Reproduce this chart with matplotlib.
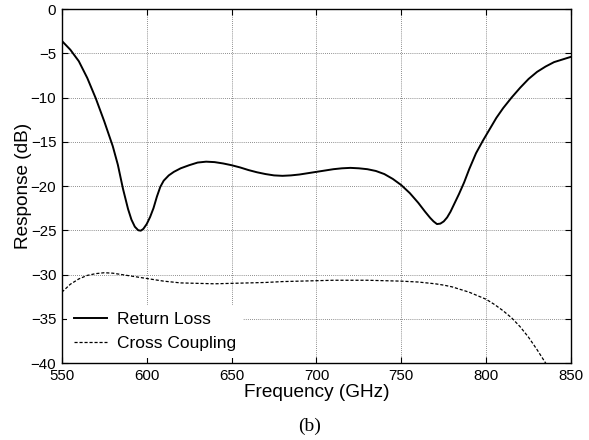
import matplotlib
matplotlib.use("Agg")
import matplotlib.pyplot as plt

# return loss
rl_freq = [550, 555, 560, 565, 570, 575, 580, 583, 586, 589, 591, 593, 595, 596.5,
           598, 600, 602, 604, 606, 608, 610, 613, 616, 620, 625, 630, 635, 640,
           645, 650, 655, 660, 665, 670, 675, 680, 685, 690, 695, 700, 705, 710,
           715, 720, 725, 730, 735, 740, 745, 750, 755, 760, 764, 767, 769, 771,
           773, 775, 777, 779, 781, 784, 787, 790, 794, 798, 802, 806, 810, 815,
           820, 825, 830, 835, 840, 845, 850]
rl_db = [-3.6, -4.6, -5.9, -7.8, -10.1, -12.7, -15.5, -17.6, -20.3, -22.6, -23.8,
         -24.6, -25.0, -25.05, -24.85, -24.3, -23.5, -22.5, -21.2, -20.1, -19.4,
         -18.8, -18.4, -18.0, -17.65, -17.35, -17.25, -17.3, -17.45, -17.65, -17.9,
         -18.2, -18.45, -18.65, -18.8, -18.85, -18.8, -18.7, -18.55, -18.4, -18.25,
         -18.1, -18.0, -17.95, -18.0, -18.1, -18.3, -18.65, -19.2, -19.9, -20.8,
         -21.9, -22.9, -23.6, -24.0, -24.3, -24.25, -24.0, -23.55, -22.9, -22.1,
         -20.9, -19.6, -18.1, -16.3, -14.9, -13.6, -12.3, -11.2, -10.0, -8.9, -7.9,
         -7.1, -6.5, -6.0, -5.7, -5.4]

# cross coupling
cc_freq = [550, 555, 560, 565, 570, 575, 580, 585, 590, 595, 600, 605, 610, 615,
           620, 630, 640, 650, 660, 670, 680, 690, 700, 710, 720, 730, 740, 750,
           760, 770, 775, 780, 785, 790, 795, 800, 805, 810, 815, 820, 825, 830,
           835, 840]
cc_db = [-32.0, -31.1, -30.5, -30.1, -29.9, -29.8, -29.85, -30.0, -30.15, -30.3,
         -30.45, -30.6, -30.75, -30.85, -30.95, -31.0, -31.05, -31.0, -30.95,
         -30.9, -30.8, -30.75, -30.7, -30.65, -30.65, -30.65, -30.7, -30.75,
         -30.85, -31.05, -31.2, -31.4, -31.7, -32.0, -32.4, -32.8, -33.4, -34.1,
         -34.9, -35.9, -37.1, -38.5, -40.0, -41.6]

xticks = [550, 600, 650, 700, 750, 800, 850]
yticks = [0, -5, -10, -15, -20, -25, -30, -35, -40]

plt.rcParams['font.family'] = ['Liberation Sans', 'DejaVu Sans']

fig = plt.figure(figsize=(5.89, 4.40), dpi=100)
ax = fig.add_axes([0.105, 0.175, 0.8645, 0.8045])

ax.plot(rl_freq, rl_db, color='black', lw=1.4, label='Return Loss')
ax.plot(cc_freq, cc_db, color='black', lw=0.9, dashes=(2.5, 1.5),
        label='Cross Coupling')

ax.set_xlim(550, 850)
ax.set_ylim(-40, 0)
ax.set_xticks(xticks)
ax.set_yticks(yticks)
ax.tick_params(direction='in', top=True, right=True, labelsize=10.8,
               length=4, width=0.8, pad=4)
ax.grid(True, color='#6a6a6a', linestyle=(0, (1, 1.5)), linewidth=0.6)
ax.set_axisbelow(True)
for s in ax.spines.values():
    s.set_linewidth(1.0)

ax.set_xlabel('Frequency (GHz)', fontsize=13.7, labelpad=1)
ax.set_ylabel('Response (dB)', fontsize=13.7, labelpad=-1)

leg = ax.legend(loc='lower left', frameon=True, fontsize=12.5, handlelength=1.9,
                borderaxespad=0.3, labelspacing=0.5, handletextpad=0.55)
leg.get_frame().set_edgecolor('none')
leg.get_frame().set_facecolor('white')
leg.get_frame().set_alpha(1)

fig.text(0.525, 0.030, '(b)', ha='center', va='center', fontsize=14,
         family=['Liberation Serif', 'DejaVu Serif'])

fig.savefig('out.png', dpi=100)
